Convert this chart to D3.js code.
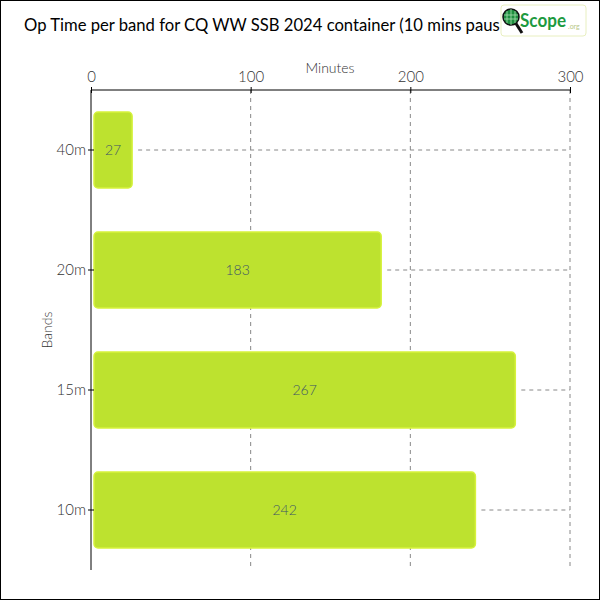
<!DOCTYPE html>
<html><head><meta charset="utf-8">
<script src="https://cdn.jsdelivr.net/npm/d3@7"></script>
<style>
body{margin:0;background:#fff;}
svg{display:block;}
text{font-family:Lato, "DejaVu Sans", sans-serif;}
</style></head>
<body>
<svg id="c" width="600" height="600"></svg>
<script>
const bands = ["40m","20m","15m","10m"];
const minutes = [27,183,267,242];
const xTicks = [0,100,200,300];
const title = "Op Time per band for CQ WW SSB 2024 container (10 mins pause)";

const svg = d3.select("#c");
svg.append("rect").attr("x",0.5).attr("y",0.5).attr("width",599).attr("height",599)
  .attr("fill","#fff").attr("stroke","#000");

const m = {left:91, right:570, top:90, bottom:570};
const x = d3.scaleLinear().domain([0,300]).range([m.left,m.right]);
const y = d3.scaleBand().domain(bands).range([m.top,m.bottom]).paddingInner(0.367).paddingOuter(0.1835);

const g = svg.append("g");
g.selectAll("line.v").data(xTicks.slice(1)).join("line")
  .attr("x1",d=>x(d)).attr("x2",d=>x(d)).attr("y1",m.top).attr("y2",m.bottom)
  .attr("stroke","#888").attr("stroke-dasharray","4,4");
g.selectAll("line.h").data(bands).join("line")
  .attr("x1",(d,i)=>x(minutes[i])+4).attr("x2",m.right)
  .attr("y1",d=>y(d)+y.bandwidth()/2).attr("y2",d=>y(d)+y.bandwidth()/2)
  .attr("stroke","#888").attr("stroke-dasharray","4,4");

svg.selectAll("rect.bar").data(bands).join("rect").attr("class","bar")
  .attr("x",x(0)+3).attr("y",d=>y(d))
  .attr("width",(d,i)=>x(minutes[i])-x(0)-5).attr("height",y.bandwidth())
  .attr("rx",4).attr("fill","#bde22f").attr("stroke","#d6f23c").attr("stroke-width",1.5);

svg.selectAll("text.val").data(bands).join("text")
  .attr("x",(d,i)=>(x(0)+3+x(minutes[i])-2)/2).attr("y",d=>y(d)+y.bandwidth()/2)
  .attr("dy","0.35em").attr("text-anchor","middle").attr("font-size",14).attr("font-weight",300)
  .attr("fill","#3d5566").text((d,i)=>minutes[i]);

const xa = svg.append("g").attr("transform",`translate(0,${m.top})`)
  .call(d3.axisTop(x).tickValues(xTicks).tickSize(3).tickPadding(5));
const ya = svg.append("g").attr("transform",`translate(${m.left},0)`)
  .call(d3.axisLeft(y).tickSize(3).tickPadding(2));
[xa,ya].forEach(a=>{
  a.select(".domain").attr("stroke","#000");
  a.selectAll(".tick line").attr("stroke","#000");
  a.selectAll(".tick text").attr("font-family","Lato").attr("font-size",15).attr("font-weight",300).attr("fill","#333");
});
xa.select(".domain").attr("d",`M${m.left},0H${m.right}`);
ya.select(".domain").attr("d",`M0,${m.top}V${m.bottom}`);
xa.selectAll(".tick line").attr("y1",3).attr("y2",-3);
ya.selectAll(".tick line").attr("x1",3).attr("x2",-3);

svg.append("text").attr("x",330).attr("y",73).attr("text-anchor","middle")
  .attr("font-size",14).attr("font-weight",300).attr("fill","#333").text("Minutes");
svg.append("text").attr("transform","translate(52,330) rotate(-90)").attr("text-anchor","middle")
  .attr("font-size",14).attr("font-weight",300).attr("fill","#333").text("Bands");

// title, clipped under the logo like the reference
svg.append("clipPath").attr("id","tclip").append("rect").attr("x",0).attr("y",0).attr("width",500).attr("height",50);
const t = svg.append("text").attr("x",24).attr("y",31).attr("font-family","DejaVu Sans Condensed, DejaVu Sans")
  .attr("font-size",18).attr("fill","#000").attr("clip-path","url(#tclip)").text(title);
// fit so that "... (10 mins paus" ends at x=500
const n = title.indexOf("pause")+4;
const w = t.node().getSubStringLength(0,n);
t.attr("font-size",18*476/w);

// logo
const lg = svg.append("g").attr("transform","translate(501,5)");
lg.append("rect").attr("x",0).attr("y",0).attr("width",85).attr("height",31).attr("rx",3)
  .attr("fill","#fff").attr("stroke","#e8efc0");
lg.append("line").attr("x1",14).attr("y1",17).attr("x2",21).attr("y2",28).attr("stroke","#111").attr("stroke-width",3);
lg.append("circle").attr("cx",10).attr("cy",12).attr("r",8).attr("fill","#1e8f3e").attr("stroke","#111").attr("stroke-width",1.5);
lg.append("path").attr("d","M6,6V18M10,4V20M14,6V18M3,10H17M3,14H17").attr("stroke","#a8e0b0").attr("stroke-width",0.8);
const sc = lg.append("text").attr("x",19).attr("y",22).attr("font-family","DejaVu Sans Condensed, DejaVu Sans").attr("font-weight",700)
  .attr("font-size",18).attr("fill","#1d9a3f").text("Scope");
const sw = sc.node().getComputedTextLength();
if (sw > 46) sc.attr("textLength",46).attr("lengthAdjust","spacingAndGlyphs");
lg.append("text").attr("x",67).attr("y",24).attr("font-size",7).attr("fill","#b8c888").text(".org");
</script>
</body></html>
